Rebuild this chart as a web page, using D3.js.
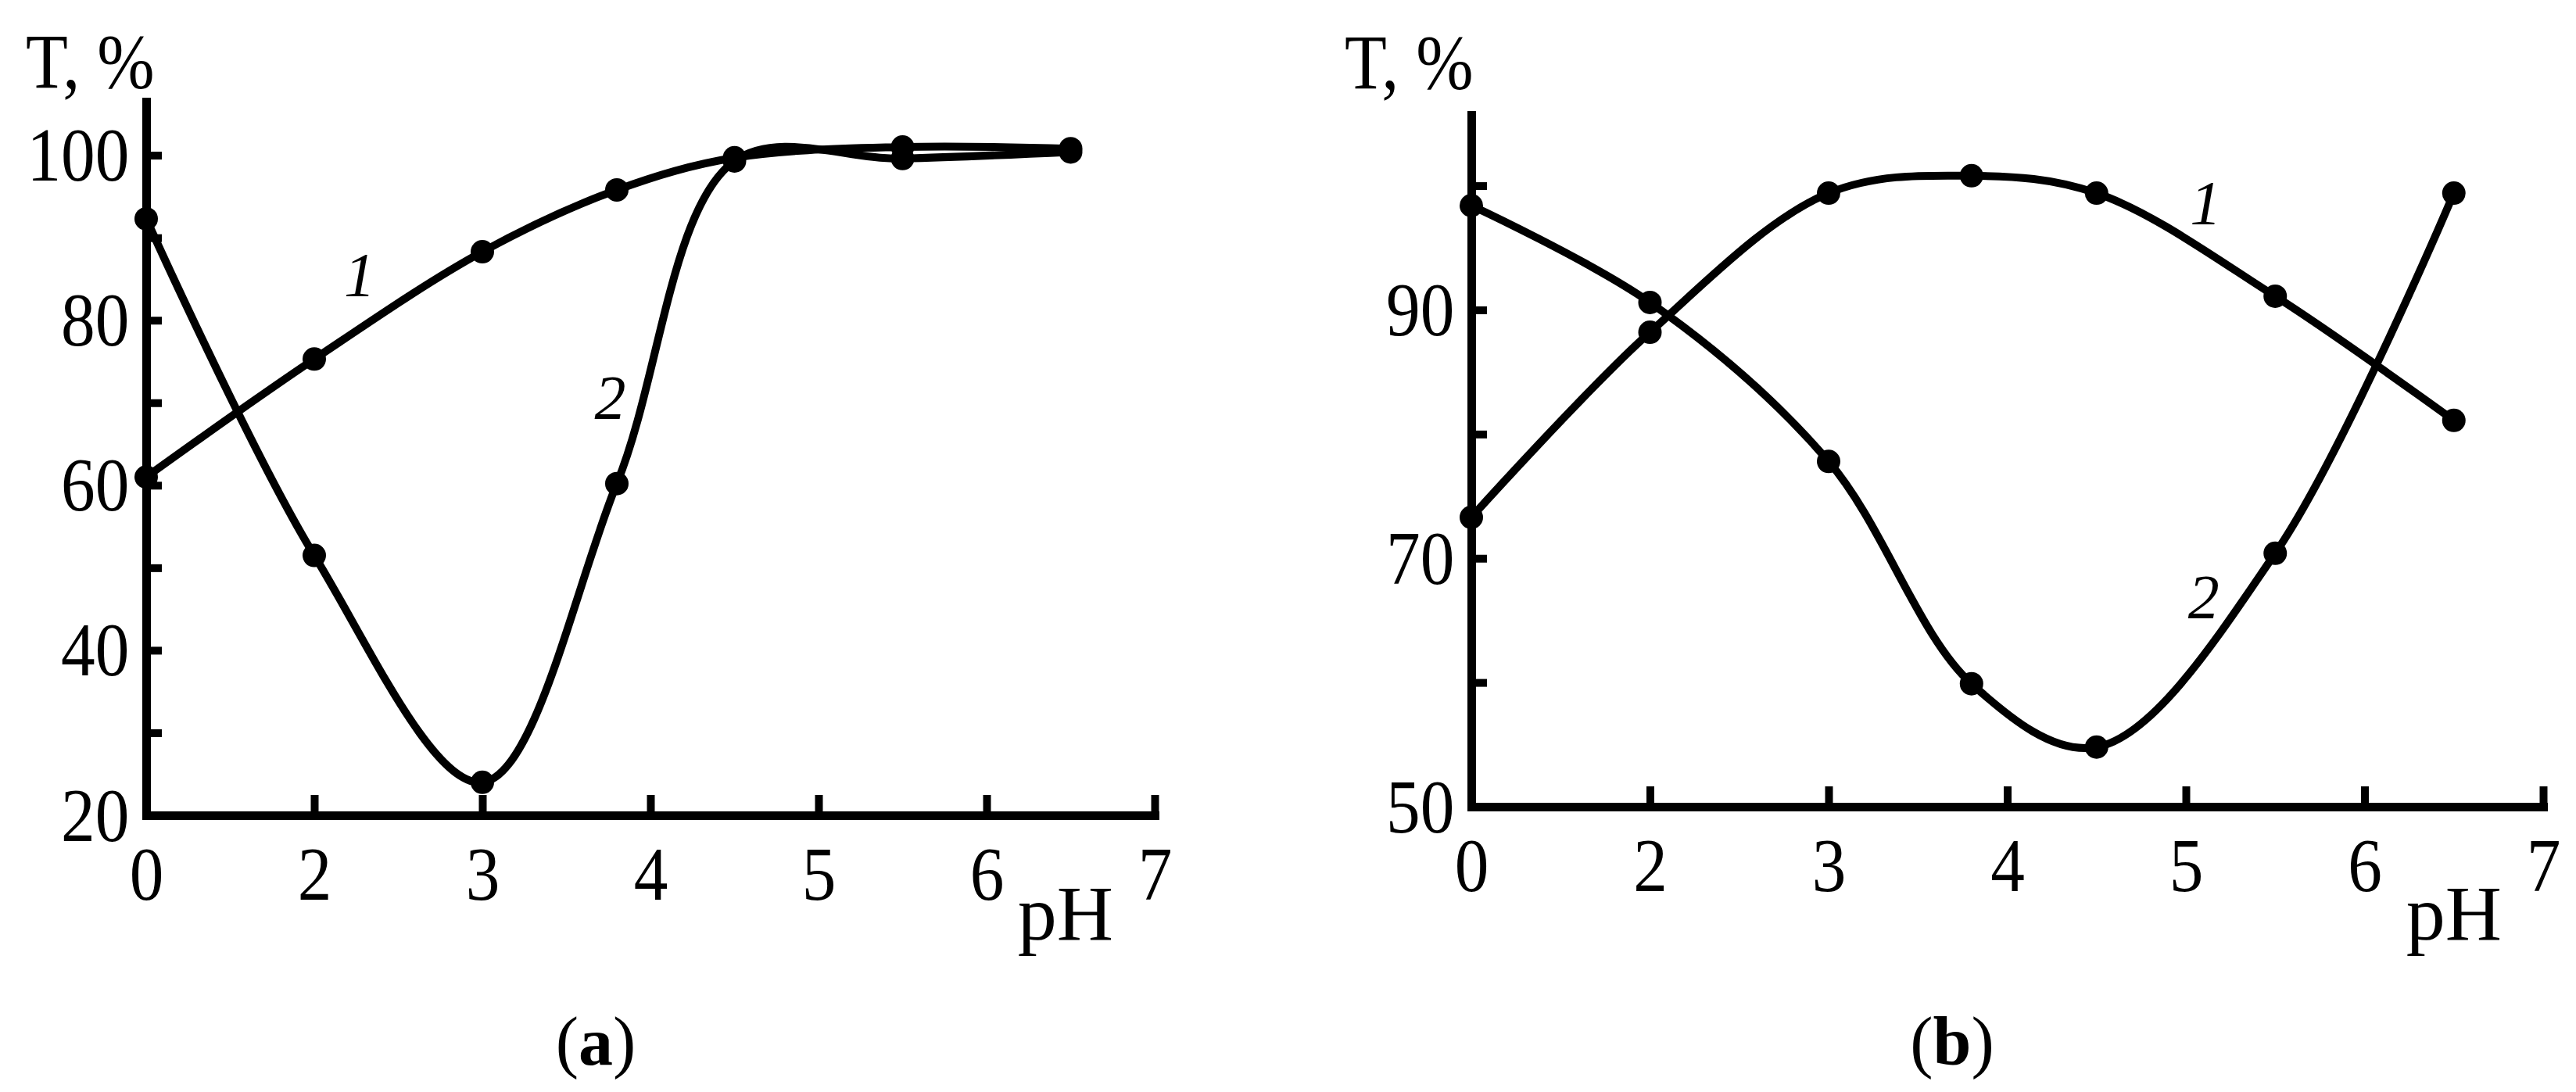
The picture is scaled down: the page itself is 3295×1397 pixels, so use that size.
<!DOCTYPE html>
<html><head><meta charset="utf-8">
<script src="https://cdn.jsdelivr.net/npm/d3@7"></script>
<style>
body{margin:0;background:#fff}
svg{display:block;background:#fff}
text{font-family:"Liberation Serif","Times New Roman",serif;fill:#000}
</style>
</head><body>
<svg id="c" width="3295" height="1397"></svg>
<script>
// ---- data ----
const xTickValues = [0, 2, 3, 4, 5, 6, 7];

const phA = [0, 2, 3, 3.8, 4.5, 5.5, 6.5];
const tA1 = [61.0, 75.3, 88.3, 95.8, 99.7, 101.0, 100.8];
const tA2 = [92.3, 51.5, 24.0, 60.2, 99.3, 99.6, 100.4];
const yTicksA = [20, 30, 40, 50, 60, 70, 80, 90, 100];
const yLabelsA = [20, 40, 60, 80, 100];
const curveLabelsA = [{text: "1", ph: 2.27, t: 85.5}, {text: "2", ph: 3.76, t: 70.6}];

const phB = [0, 2, 3, 3.8, 4.5, 5.5, 6.5];
const tB1 = [73.3, 88.2, 99.4, 100.8, 99.4, 91.1, 81.1];
const tB2 = [98.4, 90.6, 77.8, 59.9, 54.8, 70.4, 99.4];
const yTicksB = [50, 60, 70, 80, 90, 100];
const yLabelsB = [50, 70, 90];
const curveLabelsB = [{text: "1", ph: 5.11, t: 98.6}, {text: "2", ph: 5.10, t: 66.9}];

const yTitle = "T, %";
const xTitle = "pH";

// ---- drawing ----
const svg = d3.select("#c");

function panel(o) {
  const g = svg.append("g");
  const x = d3.scaleLinear()
    .domain(xTickValues)
    .range(xTickValues.map((d, i) => o.x0 + i * o.step));
  const y = d3.scaleLinear().domain([o.yMin, o.yTop]).range([o.yBottom, o.yTopPx]);

  // y axis
  const ya = g.append("g").attr("transform", `translate(${o.x0},0)`)
    .call(d3.axisLeft(y).tickValues(o.yTicks).tickSize(-20).tickSizeOuter(0).tickPadding(24)
      .tickFormat(d => o.yLabels.includes(d) ? d3.format("d")(d) : ""));
  // x axis
  const xa = g.append("g").attr("transform", `translate(0,${o.yBottom})`)
    .call(d3.axisBottom(x).tickValues(xTickValues).tickSize(-26).tickSizeOuter(0).tickPadding(39)
      .tickFormat(d3.format("d")));
  [ya, xa].forEach(a => {
    a.attr("font-size", null).attr("font-family", null);
    a.select(".domain").attr("stroke", "#000").attr("stroke-width", 11).attr("stroke-linecap", "square");
    a.selectAll(".tick line").attr("stroke", "#000").attr("stroke-width", 10);
    a.selectAll(".tick text").attr("font-size", 97).attr("fill", "#000").attr("transform", "scale(0.9,1)");
  });
  ya.selectAll(".tick text").attr("dy", "0.33em");

  const line = d3.line().x(d => x(d[0])).y(d => y(d[1])).curve(d3.curveCatmullRom.alpha(0.5));
  o.series.forEach(s => {
    const pts = s.ph.map((p, i) => [p, s.t[i]]);
    g.append("path").attr("d", line(pts)).attr("fill", "none")
      .attr("stroke", "#000").attr("stroke-width", 10).attr("stroke-linejoin", "round");
    g.selectAll(null).data(pts).enter().append("circle")
      .attr("cx", d => x(d[0])).attr("cy", d => y(d[1])).attr("r", 15).attr("fill", "#000");
  });

  o.curveLabels.forEach(l => {
    g.append("text").attr("x", x(l.ph)).attr("y", y(l.t)).attr("dy", "0.34em")
      .attr("text-anchor", "middle").attr("font-style", "italic").attr("font-size", 80).text(l.text);
  });

  // axis titles
  g.append("text").attr("x", o.titleX).attr("y", o.titleY).attr("font-size", 100)
    .attr("transform", `translate(${o.titleX},0) scale(0.88,1) translate(${-o.titleX},0)`)
    .text(yTitle);
  g.append("text").attr("x", x(7) - 53).attr("y", 1202).attr("text-anchor", "end")
    .attr("font-size", 100).text(xTitle);

  // panel caption
  const cap = g.append("text").attr("x", o.capX).attr("y", 1362).attr("text-anchor", "middle").attr("font-size", 88);
  cap.append("tspan").text("(");
  cap.append("tspan").attr("font-weight", "bold").text(o.cap);
  cap.append("tspan").text(")");
}

panel({x0: 187, step: 215, yMin: 20, yTop: 106.5, yBottom: 1043, yTopPx: 130,
  yTicks: yTicksA, yLabels: yLabelsA, curveLabels: curveLabelsA,
  series: [{ph: phA, t: tA1}, {ph: phA, t: tA2}],
  titleX: 33, titleY: 112, capX: 762, cap: "a"});

panel({x0: 1882, step: 228.5, yMin: 50, yTop: 105.7, yBottom: 1032, yTopPx: 147,
  yTicks: yTicksB, yLabels: yLabelsB, curveLabels: curveLabelsB,
  series: [{ph: phB, t: tB1}, {ph: phB, t: tB2}],
  titleX: 1720, titleY: 113, capX: 2497, cap: "b"});
</script>
</body></html>
